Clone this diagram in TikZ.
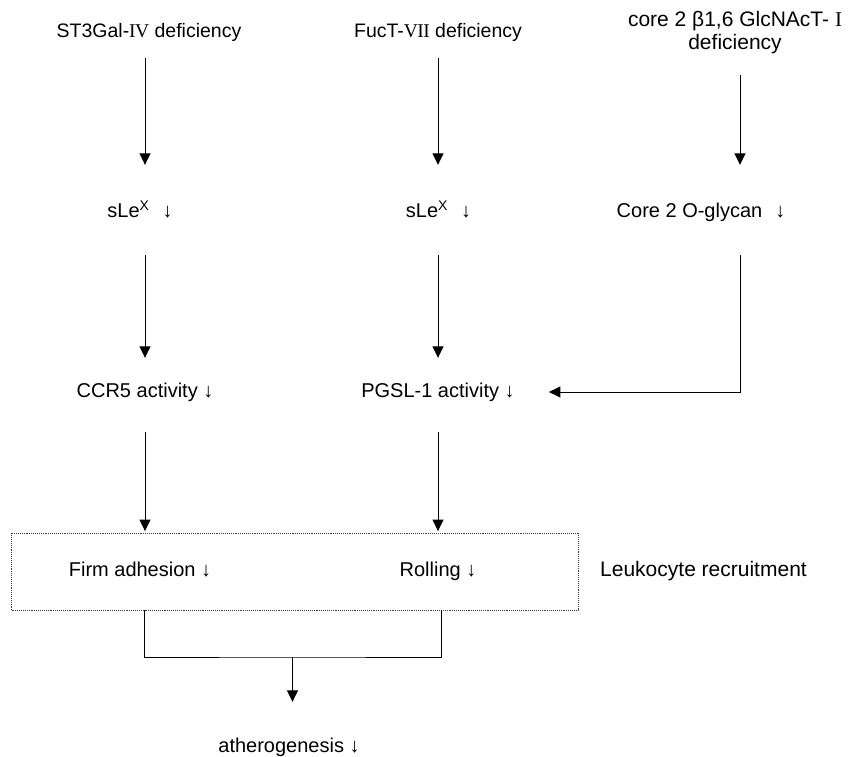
\documentclass[tikz,border=0pt]{standalone}
\usepackage{fontspec}
\setmainfont{Liberation Sans}
\newfontfamily\rmnum{Liberation Serif}
\usetikzlibrary{arrows.meta}
\begin{document}
\begin{tikzpicture}[x=1pt,y=-1pt,
  lbl/.style={font=\fontsize{20}{23}\selectfont, inner sep=0pt, text height=15pt, text depth=5pt, anchor=base},
  arr/.style={-{Triangle[width=11pt,length=11.5pt]}, line width=0.9pt},
  ln/.style={line width=0.9pt},
  dotbox/.style={draw=black!75, densely dotted, line width=0.9pt, minimum width=566.5pt, minimum height=77pt, inner sep=0pt}]
\useasboundingbox (0,0) rectangle (856,757);
% columns
\coordinate (c1) at (145,0);
\coordinate (c2) at (438,0);
\coordinate (c3) at (740,0);
\coordinate (b1) at (144,0);
\coordinate (b2) at (441,0);
% labels
\node[lbl, font=\fontsize{19.5}{23}\selectfont] (st)  at (149,38) {ST3Gal-{\rmnum I\kern-0.6ptV} deficiency};
\node[lbl, font=\fontsize{19.5}{23}\selectfont] (fuc) at (438,38) {FucT-{\rmnum V\kern-0.6ptI\kern-0.6ptI} deficiency};
\node[inner sep=0pt, align=center, font=\fontsize{21}{23}\selectfont] (core) at (735,33) {core 2 β1,6 GlcNAcT- {\rmnum I}\\deficiency};
\node[lbl] (sle1) at (140,217.7) {sLe\textsuperscript{X}\hspace{0.65em}↓};
\node[lbl] (sle2) at (438.5,217.7) {sLe\textsuperscript{X}\hspace{0.65em}↓};
\node[lbl] (core2) at (701,217.7) {Core 2 O-glycan\hspace{0.65em}↓};
\node[lbl] (ccr5) at (145,397) {CCR5 activity ↓};
\node[lbl] (psgl) at (438,397) {PGSL-1 activity ↓};
\node[dotbox] (box) at (294.75,571.5) {};
\node[lbl] (firm) at (140,576) {Firm adhesion ↓};
\node[lbl] (roll) at (438,576) {Rolling ↓};
\node[lbl, font=\fontsize{21}{23}\selectfont] (leuk) at (703.5,576) {Leukocyte recruitment};
\node[lbl] (ath)  at (289,752) {atherogenesis ↓};
\coordinate (j) at (292.5,657);
% connectors
\draw[arr, shorten <=15pt, shorten >=37.7pt] (st.south -| c1) -- (sle1.north -| c1);
\draw[arr, shorten <=15pt, shorten >=37.7pt] (fuc.south -| c2) -- (sle2.north -| c2);
\draw[arr, shorten <=20.5pt, shorten >=37.7pt] (core.south -| c3) -- (core2.north -| c3);
\draw[arr, shorten <=32.3pt, shorten >=24pt] (sle1.south -| c1) -- (ccr5.north -| c1);
\draw[arr, shorten <=32.3pt, shorten >=24pt] (sle2.south -| c2) -- (psgl.north -| c2);
\draw[arr, shorten <=32.3pt, shorten >=34pt] (core2.south -| c3) |- (psgl.east);
\draw[arr, shorten <=30pt, shorten >=1.5pt] (ccr5.south -| c1) -- (box.north -| c1);
\draw[arr, shorten <=30pt, shorten >=1.5pt] (psgl.south -| c2) -- (box.north -| c2);
\draw[ln] (box.south -| b1) |- (j) -| (box.south -| b2);
\draw[arr, shorten >=35pt] (j) -- (j |- ath.north);
\end{tikzpicture}
\end{document}
